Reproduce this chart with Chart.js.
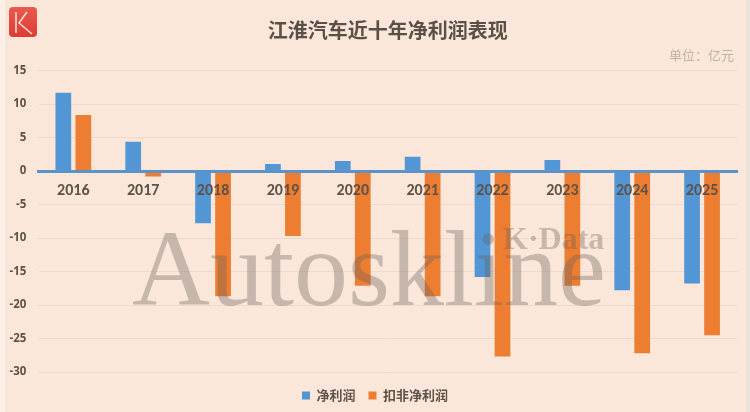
<!DOCTYPE html>
<html>
<head>
<meta charset="utf-8">
<script src="https://cdn.jsdelivr.net/npm/chart.js@4"></script>
<style>
html, body { margin: 0; padding: 0; background: #fbe7d9; }
#wrap { position: relative; width: 750px; height: 412px; overflow: hidden; }
#wrap:before { content: ""; position: absolute; left: 0; top: 0; bottom: 0; width: 5px; background: #fdf0e6; }
#wrap:after { content: ""; position: absolute; right: 0; top: 0; bottom: 0; width: 4px; background: #ebe2d9; }
canvas { position: relative; z-index: 1; }
</style>
</head>
<body>
<div id="wrap"><canvas id="barchart" width="750" height="412"></canvas></div>
<script>
const years = ['2016', '2017', '2018', '2019', '2020', '2021', '2022', '2023', '2024', '2025'];
const netProfit = [11.7, 4.4, -7.8, 1.05, 1.5, 2.15, -15.8, 1.65, -17.8, -16.8];
const adjustedProfit = [8.4, -0.8, -18.7, -9.7, -17.1, -18.7, -27.7, -17.1, -27.2, -24.5];
const yTicks = [15, 10, 5, 0, -5, -10, -15, -20, -25, -30];

const cjk = '"Noto Sans CJK SC", sans-serif';
const tickColor = '#5e5249';

// logo, unit note and the watermark that sits over the bars
const extras = {
    id: 'extras',
    afterDatasetsDraw(chart) {
        const ctx = chart.ctx;
        ctx.save();
        ctx.fillStyle = 'rgba(105, 98, 92, 0.36)';
        ctx.textBaseline = 'alphabetic';
        ctx.textAlign = 'left';
        ctx.font = '108px "Liberation Serif"';
        ctx.fillText('Autoskline', 132, 305);
        ctx.font = 'bold 32px "Liberation Serif"';
        ctx.fillText('K·Data', 503, 249);
        ctx.restore();
    },
    afterDraw(chart) {
        const ctx = chart.ctx;
        ctx.save();
        const grad = ctx.createLinearGradient(0, 7, 0, 37);
        grad.addColorStop(0, '#ea5a4e');
        grad.addColorStop(1, '#dd3b33');
        ctx.fillStyle = grad;
        ctx.beginPath();
        ctx.roundRect(9, 7, 28, 30, 4);
        ctx.fill();
        ctx.strokeStyle = '#fbe3dc';
        ctx.lineWidth = 1.5;
        ctx.beginPath();
        ctx.moveTo(16, 12);
        ctx.lineTo(16, 33);
        ctx.moveTo(27, 12);
        ctx.lineTo(19, 23);
        ctx.lineTo(32, 34);
        ctx.stroke();
        ctx.fillStyle = '#bdb2a7';
        ctx.font = '13px ' + cjk;
        ctx.textAlign = 'right';
        ctx.textBaseline = 'middle';
        ctx.fillText('单位：亿元', 734, 55);
        ctx.restore();
    }
};

new Chart(document.getElementById('barchart'), {
    type: 'bar',
    data: {
        labels: years,
        datasets: [{
            label: '净利润',
            data: netProfit,
            backgroundColor: '#5296d5',
            categoryPercentage: 0.573,
            barPercentage: 0.785
        }, {
            label: '扣非净利润',
            data: adjustedProfit,
            backgroundColor: '#ed7d31',
            categoryPercentage: 0.573,
            barPercentage: 0.785
        }]
    },
    options: {
        responsive: false,
        animation: false,
        layout: { padding: { left: 0, right: 0, top: 18, bottom: 0 } },
        plugins: {
            title: {
                display: true,
                text: '江淮汽车近十年净利润表现',
                fullSize: false,
                color: '#5a5048',
                font: { family: cjk, size: 20, weight: 'bold' },
                padding: { top: 0, bottom: 28.7 }
            },
            legend: {
                position: 'bottom',
                labels: {
                    boxWidth: 8,
                    boxHeight: 8,
                    padding: 13,
                    color: tickColor,
                    font: { family: cjk, size: 13, weight: 'bold' }
                }
            },
            tooltip: { enabled: false }
        },
        scales: {
            x: {
                position: { y: 0 },
                grid: { display: false },
                border: { color: '#5b93c9', width: 3, z: 1 },
                ticks: {
                    z: 1,
                    color: tickColor,
                    padding: 2,
                    maxRotation: 0,
                    font: { family: 'Carlito, "Open Sans", sans-serif', size: 16, weight: 'bold' }
                }
            },
            // empty axes, they only keep the space below and right of the plot
            gap: {
                axis: 'x',
                position: 'bottom',
                grid: { display: false },
                border: { display: false },
                ticks: { display: false },
                afterFit(scale) { scale.height = 4; }
            },
            gapRight: {
                axis: 'y',
                position: 'right',
                grid: { display: false },
                border: { display: false },
                ticks: { display: false },
                afterFit(scale) { scale.width = 13; }
            },
            y: {
                min: -30,
                max: 15,
                afterFit(scale) { scale.width = 38.4; },
                afterBuildTicks(scale) { scale.ticks = yTicks.map(v => ({ value: v })); },
                grid: { color: '#ebdbce', lineWidth: 1, drawTicks: false },
                border: { display: false },
                ticks: {
                    color: tickColor,
                    padding: 12,
                    font: { family: '"Open Sans", sans-serif', size: 11.5, weight: 'bold' }
                }
            }
        }
    },
    plugins: [extras]
});
</script>
</body>
</html>
